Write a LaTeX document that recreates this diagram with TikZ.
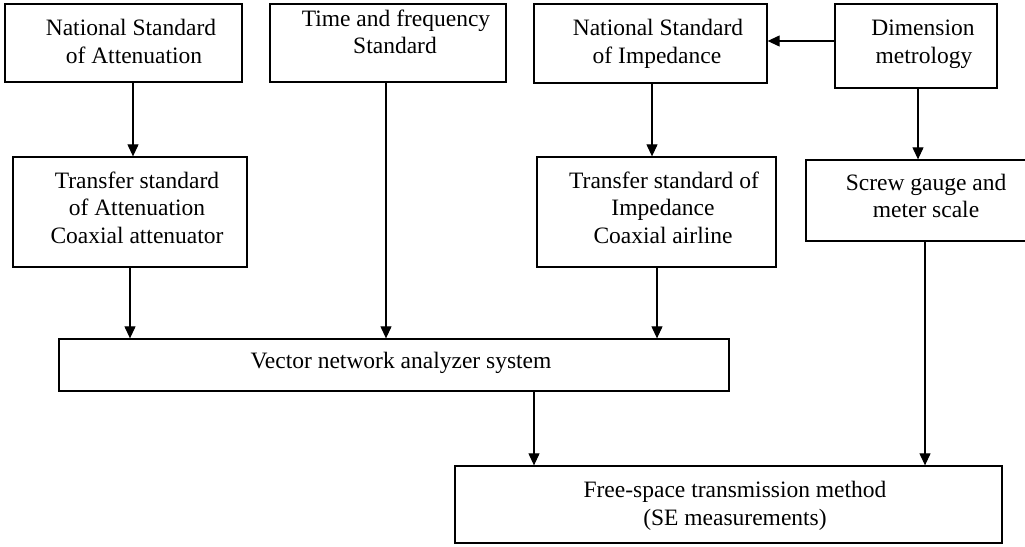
\documentclass[tikz,border=0pt]{standalone}
\usepackage{fontspec}
\setmainfont{Liberation Serif}
\usetikzlibrary{fit,arrows.meta}
\begin{document}
\begin{tikzpicture}[x=1pt,y=-1pt,
  box/.style={draw=black, line width=1.3pt, inner sep=0pt},
  arr/.style={draw=black, line width=1.1pt, -{Triangle[length=12pt,width=11pt]}},
  txt/.style={anchor=base, inner sep=0pt, font=\fontsize{23.5}{27.5}\selectfont}]
\useasboundingbox (0,0) rectangle (1025,546);
\clip (0,0) rectangle (1025,546);
% boxes
\node[box, fit={(5,4) (242,82)}] (b1) {};
\node[box, fit={(270,4) (506,82)}] (b2) {};
\node[box, fit={(534,4) (767,83)}] (b3) {};
\node[box, fit={(835,4) (997,88)}] (b4) {};
\node[box, fit={(13,157) (247,267)}] (b5) {};
\node[box, fit={(537,157) (776,267)}] (b6) {};
\node[box, fit={(806,160) (1040,241)}] (b7) {};
\node[box, fit={(59,339) (729,391)}] (b8) {};
\node[box, fit={(455,466) (1002,543)}] (b9) {};
% texts
\node[txt] (t1a) at (131,35) {National Standard};
\node[txt] (t1b) at (134,63) {of Attenuation};
\node[txt] (t2a) at (396,27) {Time and frequency};
\node[txt] (t2b) at (395,53) {Standard};
\node[txt] (t3a) at (658,35) {National Standard};
\node[txt] (t3b) at (657,63) {of Impedance};
\node[txt] (t4a) at (923,35) {Dimension};
\node[txt] (t4b) at (924,63) {metrology};
\node[txt] (t5a) at (137,188) {Transfer standard};
\node[txt] (t5b) at (137,215) {of Attenuation};
\node[txt] (t5c) at (137,243) {Coaxial attenuator};
\node[txt] (t6a) at (664,188) {Transfer standard of};
\node[txt] (t6b) at (663,215) {Impedance};
\node[txt] (t6c) at (663,243) {Coaxial airline};
\node[txt] (t7a) at (926,190) {Screw gauge and};
\node[txt] (t7b) at (926,217) {meter scale};
\node[txt] (t8a) at (401,368) {Vector network analyzer system};
\node[txt] (t9a) at (735,497) {Free-space transmission method};
\node[txt] (t9b) at (735,525) {(SE measurements)};
% connectors
\draw[arr] (133,0 |- b1.south) -- (133,0 |- b5.north);
\draw[arr] (386,0 |- b2.south) -- (386,0 |- b8.north);
\draw[arr] (652,0 |- b3.south) -- (652,0 |- b6.north);
\draw[arr] (b4.west |- 0,41) -- (b3.east |- 0,41);
\draw[arr] (918,0 |- b4.south) -- (918,0 |- b7.north);
\draw[arr] (130,0 |- b5.south) -- (130,0 |- b8.north);
\draw[arr] (657,0 |- b6.south) -- (657,0 |- b8.north);
\draw[arr] (925,0 |- b7.south) -- (925,0 |- b9.north);
\draw[arr] (534,0 |- b8.south) -- (534,0 |- b9.north);
\end{tikzpicture}
\end{document}
